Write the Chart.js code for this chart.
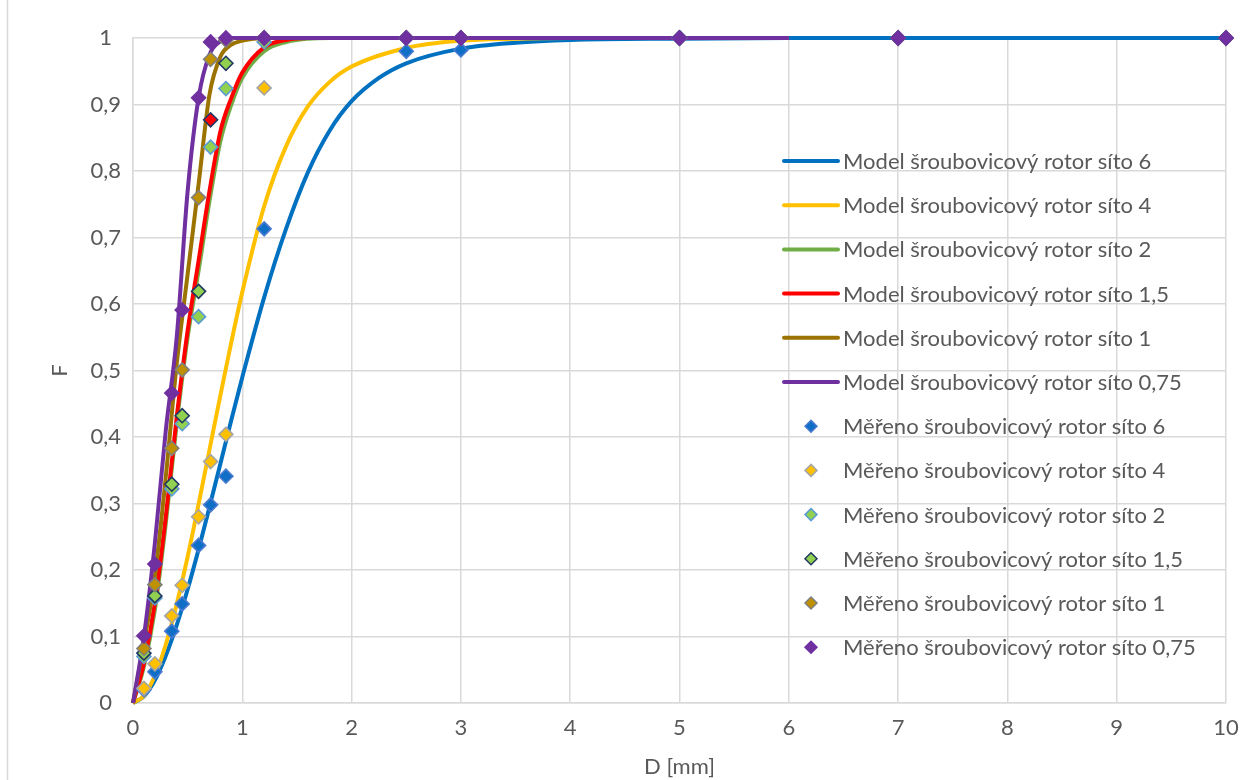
<!DOCTYPE html>
<html>
<head>
<meta charset="utf-8">
<title>Granulometrie – šroubovicový rotor</title>
<script src="https://cdn.jsdelivr.net/npm/chart.js@4.4.1/dist/chart.umd.min.js"></script>
<style>
  html, body { margin: 0; padding: 0; background: #fff; }
  #wrap { position: relative; width: 1253px; height: 780px; }
</style>
</head>
<body>
<div id="wrap"><canvas id="chart" width="1253" height="780"></canvas></div>
<script>
// Sieve sizes of the measured fractions [mm]
const sieveD = [0.1, 0.2, 0.355, 0.45, 0.6, 0.71, 0.85, 1.2, 2.5, 3, 5, 7, 10];

// Measured cumulative passing F, one array per screen size
const measured6   = [0.02, 0.047, 0.108, 0.149, 0.237, 0.298, 0.341, 0.713, 0.98, 0.982, 1, 1, 1];
const measured4   = [0.022, 0.059, 0.131, 0.177, 0.28, 0.363, 0.404, 0.925, 1, 1, 1, 1, 1];
const measured2   = [0.07, 0.158, 0.322, 0.42, 0.581, 0.836, 0.924, 0.994, 1, 1, 1, 1, 1];
const measured1_5 = [0.075, 0.161, 0.329, 0.432, 0.619, 0.877, 0.962, 1, 1, 1, 1, 1, 1];
const measured1   = [0.082, 0.178, 0.383, 0.501, 0.76, 0.968, 0.997, 1, 1, 1, 1, 1, 1];
const measured075 = [0.101, 0.209, 0.466, 0.591, 0.91, 0.994, 1, 1, 1, 1, 1, 1, 1];

// Model curves: D grid and F values
const modelD6 = [0, 0.1, 0.2, 0.3, 0.4, 0.5, 0.6, 0.7, 0.8, 0.9, 1, 1.2, 1.4, 1.6, 1.8, 2, 2.25, 2.5, 3, 3.5, 4, 5, 6, 7, 8, 9, 10];
const modelD  = [0, 0.1, 0.2, 0.3, 0.4, 0.5, 0.6, 0.7, 0.8, 0.9, 1, 1.2, 1.4, 1.6, 1.8, 2, 2.5, 3, 3.5, 4, 5, 6];
const model6   = [0, 0.01, 0.034, 0.071, 0.117, 0.171, 0.231, 0.295, 0.36, 0.426, 0.49, 0.61, 0.713, 0.798, 0.861, 0.905, 0.94, 0.962, 0.984, 0.993, 0.997, 0.999, 1, 1, 1, 1, 1];
const model4   = [0, 0.011, 0.041, 0.088, 0.149, 0.22, 0.299, 0.381, 0.463, 0.543, 0.618, 0.747, 0.837, 0.897, 0.934, 0.957, 0.985, 0.996, 0.999, 1, 1, 1];
const model2   = [0, 0.055, 0.14, 0.27, 0.42, 0.55, 0.65, 0.755, 0.845, 0.9, 0.94, 0.98, 0.994, 0.999, 1, 1, 1, 1, 1, 1, 1, 1];
const model1_5 = [0, 0.06, 0.15, 0.28, 0.43, 0.56, 0.665, 0.77, 0.86, 0.91, 0.948, 0.986, 0.997, 1, 1, 1, 1, 1, 1, 1, 1, 1];
const model1   = [0, 0.09, 0.19, 0.34, 0.51, 0.645, 0.78, 0.915, 0.972, 0.99, 0.996, 1, 1, 1, 1, 1, 1, 1, 1, 1, 1, 1];
const model075 = [0, 0.1, 0.24, 0.41, 0.55, 0.77, 0.91, 0.975, 0.995, 1, 1, 1, 1, 1, 1, 1, 1, 1, 1, 1, 1, 1];

const xTickLabels = ['0', '1', '2', '3', '4', '5', '6', '7', '8', '9', '10'];
const yTickLabels = ['0', '0,1', '0,2', '0,3', '0,4', '0,5', '0,6', '0,7', '0,8', '0,9', '1'];

const FONT = 'Lato, "Open Sans", sans-serif';
const TEXT = '#595959';
const GRID = '#d9d9d9';

const toPoints = (xs, ys) => xs.map((x, i) => ({ x: x, y: ys[i] }));

function modelSeries(label, xs, ys, color) {
    return {
        label: label,
        data: toPoints(xs, ys),
        showLine: true,
        borderColor: color,
        backgroundColor: color,
        borderWidth: 4,
        pointRadius: 0,
        pointHoverRadius: 0,
        cubicInterpolationMode: 'monotone',
        clip: 4
    };
}

function measuredSeries(label, ys, fill, edge) {
    return {
        label: label,
        data: toPoints(sieveD, ys),
        showLine: false,
        pointStyle: 'rectRot',
        pointRadius: 7,
        pointHoverRadius: 7,
        pointBorderWidth: 1.6,
        backgroundColor: fill,
        pointBackgroundColor: fill,
        pointBorderColor: edge,
        borderColor: edge,
        clip: false
    };
}

const datasets = [
    modelSeries('Model šroubovicový rotor síto 6', modelD6, model6, '#0070c0'),
    modelSeries('Model šroubovicový rotor síto 4', modelD, model4, '#ffc000'),
    modelSeries('Model šroubovicový rotor síto 2', modelD, model2, '#70ad47'),
    modelSeries('Model šroubovicový rotor síto 1,5', modelD, model1_5, '#ff0000'),
    modelSeries('Model šroubovicový rotor síto 1', modelD, model1, '#9c7300'),
    modelSeries('Model šroubovicový rotor síto 0,75', modelD, model075, '#7030a0'),
    measuredSeries('Měřeno šroubovicový rotor síto 6', measured6, '#0f6fc6', '#4a7bd0'),
    measuredSeries('Měřeno šroubovicový rotor síto 4', measured4, '#ffc000', '#a5a5a5'),
    measuredSeries('Měřeno šroubovicový rotor síto 2', measured2, '#92d050', '#5b9bd5'),
    measuredSeries('Měřeno šroubovicový rotor síto 1,5', measured1_5, '#92d050', '#203864'),
    measuredSeries('Měřeno šroubovicový rotor síto 1', measured1, '#bf9000', '#7f7f7f'),
    measuredSeries('Měřeno šroubovicový rotor síto 0,75', measured075, '#7030a0', '#7030a0')
];

// one point of the 1,5 screen is filled red
datasets[9].pointBackgroundColor = c => (sieveD[c.dataIndex] === 0.71 ? '#ff0000' : '#92d050');

// first series lies at the bottom, the last one on top
datasets.forEach((ds, i) => { ds.order = datasets.length - i; });

// Legend drawn inside the plot area, on the right
const legendBox = { lineX0: 784, lineX1: 838, markX: 811, textX: 843, top: 161, gap: 44.2 };

const insideLegend = {
    id: 'insideLegend',
    afterDraw(chart) {
        const ctx = chart.ctx;
        ctx.save();
        ctx.font = '22px ' + FONT;
        ctx.textBaseline = 'middle';
        ctx.textAlign = 'left';
        chart.data.datasets.forEach((ds, i) => {
            const y = legendBox.top + i * legendBox.gap;
            if (ds.showLine) {
                ctx.strokeStyle = ds.borderColor;
                ctx.lineWidth = 4;
                ctx.lineCap = 'round';
                ctx.beginPath();
                ctx.moveTo(legendBox.lineX0, y);
                ctx.lineTo(legendBox.lineX1, y);
                ctx.stroke();
            } else {
                const r = 6;
                ctx.beginPath();
                ctx.moveTo(legendBox.markX, y - r);
                ctx.lineTo(legendBox.markX + r, y);
                ctx.lineTo(legendBox.markX, y + r);
                ctx.lineTo(legendBox.markX - r, y);
                ctx.closePath();
                ctx.fillStyle = ds.backgroundColor;
                ctx.fill();
                ctx.lineWidth = 1.5;
                ctx.strokeStyle = ds.pointBorderColor;
                ctx.stroke();
            }
            ctx.fillStyle = TEXT;
            ctx.fillText(ds.label, legendBox.textX, y + 1);
        });
        ctx.restore();
    }
};

// White page and the thin frame line on the left
const frame = {
    id: 'frame',
    beforeDraw(chart) {
        const ctx = chart.ctx;
        ctx.save();
        ctx.fillStyle = '#fff';
        ctx.fillRect(0, 0, chart.width, chart.height);
        ctx.strokeStyle = GRID;
        ctx.lineWidth = 1.5;
        ctx.beginPath();
        ctx.moveTo(7.5, 0);
        ctx.lineTo(7.5, chart.height);
        ctx.stroke();
        ctx.restore();
    }
};

new Chart(document.getElementById('chart'), {
    type: 'scatter',
    data: { datasets: datasets },
    options: {
        responsive: false,
        animation: false,
        events: [],
        layout: { padding: { left: 0, right: 27, top: 38, bottom: 0 } },
        plugins: {
            legend: { display: false },
            tooltip: { enabled: false }
        },
        scales: {
            x: {
                type: 'linear',
                min: 0,
                max: 10,
                afterBuildTicks: s => { s.ticks = xTickLabels.map((_, i) => ({ value: i })); },
                afterFit: s => { s.height = 77; },
                ticks: {
                    callback: (v, i) => xTickLabels[i],
                    color: TEXT,
                    font: { family: FONT, size: 22 },
                    padding: 12,
                    maxRotation: 0,
                    autoSkip: false
                },
                grid: { color: GRID, lineWidth: 1.5, drawTicks: false },
                border: { color: GRID, width: 1.5 },
                title: {
                    display: true,
                    text: 'D [mm]',
                    color: TEXT,
                    font: { family: FONT, size: 22 },
                    padding: { top: 0, bottom: 0 }
                }
            },
            y: {
                type: 'linear',
                min: 0,
                max: 1,
                afterBuildTicks: s => { s.ticks = yTickLabels.map((_, i) => ({ value: i / 10 })); },
                afterFit: s => { s.width = 133; },
                ticks: {
                    callback: (v, i) => yTickLabels[i],
                    color: TEXT,
                    font: { family: FONT, size: 22 },
                    crossAlign: 'center',
                    padding: 12,
                    autoSkip: false
                },
                grid: { color: GRID, lineWidth: 1.5, drawTicks: false },
                border: { color: GRID, width: 1.5 },
                title: {
                    display: true,
                    text: 'F',
                    color: TEXT,
                    font: { family: FONT, size: 22 },
                    padding: { top: 47, bottom: 0 }
                }
            }
        }
    },
    plugins: [frame, insideLegend]
});
</script>
</body>
</html>
